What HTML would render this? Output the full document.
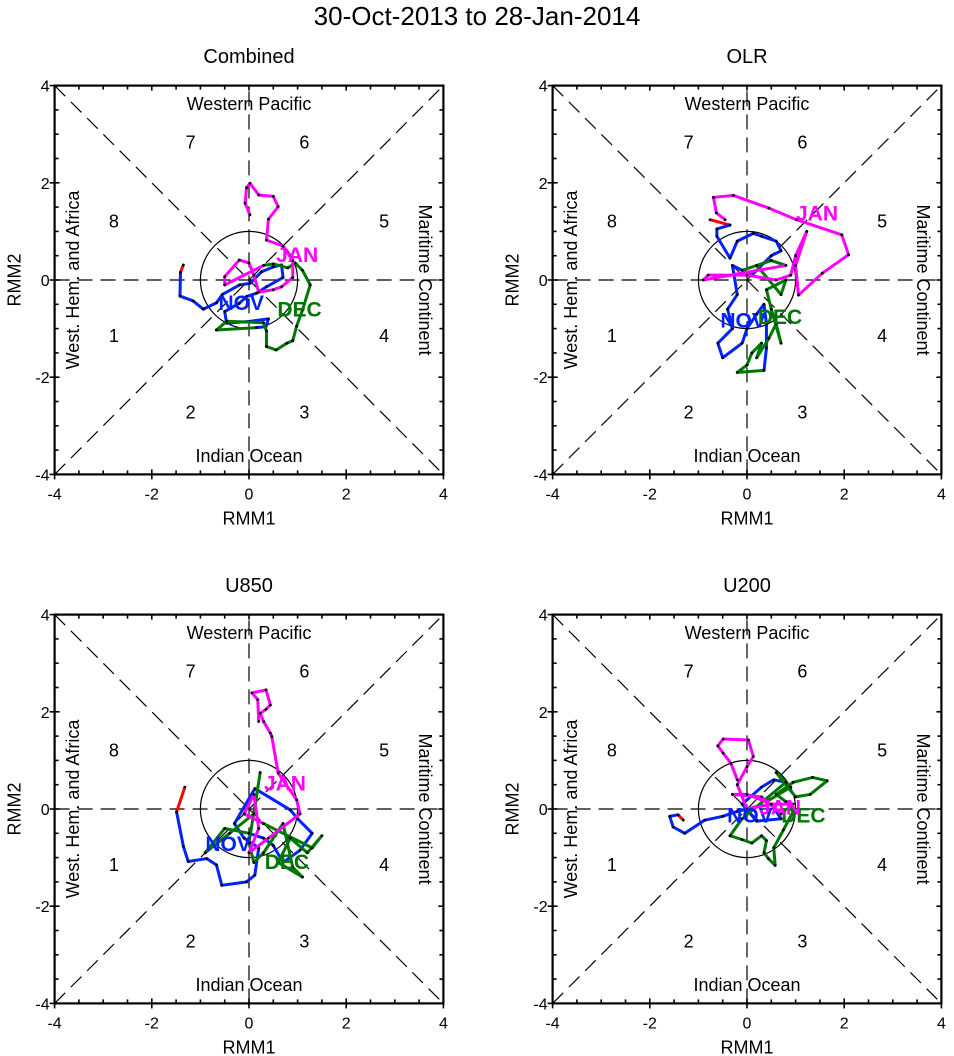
<!DOCTYPE html>
<html><head><meta charset="utf-8"><style>
body{margin:0;background:#fff;}
svg{display:block;font-family:"Liberation Sans",sans-serif;}
</style></head><body>
<svg id="chart" width="954" height="1056" viewBox="0 0 954 1056" xmlns="http://www.w3.org/2000/svg">
<text x="477" y="25" font-size="26" text-anchor="middle">30-Oct-2013 to 28-Jan-2014</text>
</svg>
<script>
const panelNames = ["Combined","OLR","U850","U200"];
const panelCenters = [[249,280],[747,280],[249,809],[747,809]];
// trajectories in RMM units: [RMM1, RMM2]
const octSeries = [
 [[-1.35,0.31],[-1.41,0.16]],
 [[-0.76,1.24],[-0.35,1.13]],
 [[-1.32,0.45],[-1.49,-0.06]],
 [[-1.31,-0.23],[-1.42,-0.12]]
];
const novSeries = [
 [[-1.41,0.16],[-1.42,-0.33],[-1.15,-0.43],[-0.94,-0.60],[-0.67,-0.47],[-0.55,-0.30],[-0.19,-0.10],[0.02,-0.07],[0.26,0.17],[0.50,0.27],[0.67,0.31],[0.70,0.05],[0.36,-0.14],[0.16,-0.27],[-0.05,-0.34],[-0.20,-0.48],[-0.50,-0.65],[-0.46,-0.89],[0.02,-0.85],[0.40,-0.80],[0.35,-0.96],[0.15,-0.98]],
 [[-0.35,1.13],[-0.62,1.05],[-0.62,0.9],[-0.35,0.45],[-0.2,0.8],[0.13,0.96],[0.3,0.9],[0.6,0.8],[0.7,0.6],[0.5,0.5],[0.1,0.1],[-0.3,0.3],[-0.2,-0.3],[-0.4,-0.6],[-0.3,-1.0],[-0.6,-1.3],[-0.5,-1.6],[-0.1,-1.3],[0.0,-1.0],[0.2,-0.7],[0.35,-0.5],[0.4,-0.9],[0.4,-1.4],[0.35,-1.86]],
 [[-1.49,-0.06],[-1.35,-0.77],[-1.25,-1.08],[-0.87,-1.02],[-0.67,-1.15],[-0.56,-1.57],[-0.05,-1.50],[0.12,-1.36],[0.2,-0.8],[-0.1,-0.6],[-0.3,-0.3],[0.12,0.42],[0.85,-0.02],[1.0,-0.2],[1.3,-0.5],[1.05,-0.85],[0.7,-1.1],[0.5,-0.75],[0.3,-0.6],[0.0,-0.5]],
 [[-1.42,-0.12],[-1.59,-0.15],[-1.52,-0.37],[-1.28,-0.50],[-0.87,-0.23],[-0.5,-0.15],[-0.2,-0.05],[0.2,0.05],[0.5,0.1],[0.7,-0.2],[0.2,-0.25],[-0.1,0.1],[0.3,0.45],[0.55,0.6],[0.8,0.55]]
];
const decSeries = [
 [[0.15,-0.98],[-0.67,-1.03],[-0.46,-0.85],[0.3,-0.88],[0.36,-1.05],[0.36,-1.37],[0.56,-1.44],[0.78,-1.30],[0.9,-1.25],[0.98,-0.95],[1.10,-0.62],[1.26,-0.10],[1.10,0.20],[0.95,0.35],[0.80,0.25],[0.50,0.33],[0.3,0.30]],
 [[0.35,-1.86],[-0.2,-1.9],[0.0,-1.75],[0.1,-1.5],[0.3,-1.3],[0.2,-1.6],[0.45,-1.2],[0.6,-0.9],[0.7,-1.3],[0.5,-0.6],[0.4,-0.2],[0.8,0.0],[0.7,-0.3],[0.2,0.3],[-0.1,0.2],[0.5,0.4],[0.8,0.3]],
 [[0.0,-0.5],[-0.5,-0.4],[-0.9,-0.9],[-0.4,-0.5],[0.1,-0.1],[0.23,0.75],[0.0,-0.7],[0.1,-1.1],[0.3,-0.9],[0.7,-0.3],[0.9,-1.2],[1.1,-1.4],[0.6,-1.1],[0.85,-0.6],[1.2,-0.9],[1.5,-0.55],[1.3,-0.8],[0.3,-0.3]],
 [[0.8,0.55],[-0.1,-0.2],[-0.35,-0.55],[-0.1,-0.63],[0.1,-0.7],[0.3,-0.55],[0.4,-0.65],[0.35,-0.9],[0.44,-1.02],[0.58,-1.16],[0.55,-0.8],[0.75,-0.43],[0.95,-0.05],[0.8,0.15],[0.6,0.3],[0.95,0.55],[1.35,0.65],[1.65,0.58],[1.3,0.3],[1.0,0.25],[0.6,0.75],[0.9,0.45],[0.4,0.15]]
];
const janSeries = [
 [[0.3,0.30],[-0.5,-0.1],[-0.5,0.07],[-0.2,0.41],[0.0,0.35],[0.1,0.1],[0.2,-0.25],[0.5,-0.2],[0.67,-0.14],[0.9,0.05],[0.9,0.4],[0.7,0.7],[0.36,0.82],[0.40,1.25],[0.60,1.51],[0.50,1.72],[0.2,1.75],[0.02,1.99],[-0.05,1.9],[-0.08,1.58],[0.02,1.34]],
 [[0.8,0.3],[-0.9,0.0],[-0.8,0.1],[0.0,0.1],[0.6,0.0],[0.9,0.1],[1.0,0.5],[1.23,1.0],[1.0,0.3],[1.06,-0.31],[1.55,0.14],[2.09,0.52],[1.95,0.93],[1.02,1.24],[0.45,1.48],[-0.28,1.74],[-0.69,1.70],[-0.63,1.38],[-0.45,1.24]],
 [[0.3,-0.3],[-0.1,-0.1],[0.1,0.3],[0.2,-0.4],[0.0,-0.9],[0.4,-0.6],[1.05,-0.1],[0.98,0.19],[0.60,0.74],[0.47,1.49],[0.44,1.56],[0.3,1.8],[0.23,1.97],[0.35,2.05],[0.44,2.14],[0.35,2.45],[0.06,2.39],[0.18,2.25],[0.2,1.8]],
 [[0.4,0.15],[0.0,0.3],[-0.3,0.3],[0.3,0.25],[0.7,-0.1],[0.95,0.1],[0.5,0.1],[0.0,0.0],[-0.2,0.5],[0.0,0.87],[0.13,1.08],[0.03,1.42],[-0.49,1.44],[-0.6,1.3],[-0.49,1.15],[-0.33,0.94],[-0.2,0.6]]
];
const monthLabelPos = [
 [[-0.16,-0.50],[1.04,-0.64],[0.99,0.48]],
 [[-0.08,-0.86],[0.68,-0.79],[1.44,1.34]],
 [[-0.43,-0.75],[0.78,-1.12],[0.74,0.49]],
 [[0.06,-0.16],[1.16,-0.16],[0.68,0.0]]
];
const monthLabels = ["NOV","DEC","JAN"];
const tickLabels = ["-4","-2","0","2","4"];
const tickValues = [-4,-2,0,2,4];
const phaseLabels = ["1","2","3","4","5","6","7","8"];
const phasePos = [[-2.78,-1.18],[-1.2,-2.75],[1.14,-2.75],[2.78,-1.18],[2.78,1.18],[1.14,2.8],[-1.2,2.8],[-2.78,1.18]];
const S = 48.6;
const svg = document.getElementById('chart');
const NS = "http://www.w3.org/2000/svg";
function mk(tag, attrs, parent){const e=document.createElementNS(NS,tag);for(const k in attrs)e.setAttribute(k,attrs[k]);(parent||svg).appendChild(e);return e;}
panelNames.forEach((name,pi)=>{
  const [cx,cy]=panelCenters[pi];
  const X=v=>cx+v*S, Y=v=>cy-v*S;
  const g=mk('g',{});
  
  
  const t=mk('text',{x:cx,y:cy-217,'font-size':20,'text-anchor':'middle'},g);t.textContent=name;
  
  
  const dl=[[-4,-4,4,4],[-4,4,4,-4],[-4,0,4,0],[0,-4,0,4]];
  dl.forEach(d=>{const l=mk('line',{x1:X(d[0]),y1:Y(d[1]),x2:X(d[2]),y2:Y(d[3]),stroke:'#000','stroke-width':1.2,'stroke-dasharray':'15,8'},g);
    
    });
  const c=mk('circle',{cx:cx,cy:cy,r:S,fill:'none',stroke:'#000','stroke-width':1.2},g);
  
  
  const regs=[["Western Pacific",cx,Y(3.6),0],["Indian Ocean",cx,Y(-3.65),0],["West. Hem. and Africa",X(-3.6),cy,-90],["Maritime Continent",X(3.6),cy,90]];
  regs.forEach(r=>{const tt=mk('text',{x:r[1],y:r[2],'font-size':18,'text-anchor':'middle','dominant-baseline':'middle',transform:`rotate(${r[3]} ${r[1]} ${r[2]})`},g);
    tt.textContent=r[0];
    
    });
  phaseLabels.forEach((p,i)=>{const tt=mk('text',{x:X(phasePos[i][0]),y:Y(phasePos[i][1]),'font-size':18,'text-anchor':'middle','dominant-baseline':'middle'},g);tt.textContent=p;
    
    });
  const f=mk('rect',{x:X(-4),y:Y(4),width:8*S,height:8*S,fill:'none',stroke:'#000','stroke-width':2.2},g);
  
  
  for(let v=-4;v<=4.001;v+=0.5){
    const major=Math.abs(v%2)<0.01;
    const L=major?5:4;
    mk('line',{x1:X(v),y1:Y(-4)-L,x2:X(v),y2:Y(-4)+(major?5:0),stroke:'#000','stroke-width':1.6},g);
    mk('line',{x1:X(v),y1:Y(4)+L,x2:X(v),y2:Y(4),stroke:'#000','stroke-width':1.6},g);
    mk('line',{x1:X(-4)+L,y1:Y(v),x2:X(-4)-(major?5:0),y2:Y(v),stroke:'#000','stroke-width':1.6},g);
    mk('line',{x1:X(4)-L,y1:Y(v),x2:X(4),y2:Y(v),stroke:'#000','stroke-width':1.6},g);
  }
  tickValues.forEach((v,i)=>{
    const a=mk('text',{x:X(v),y:Y(-4)+25,'font-size':16,'text-anchor':'middle'},g);a.textContent=tickLabels[i];
    
    
    const b=mk('text',{x:X(-4)-5,y:Y(v)+6,'font-size':16,'text-anchor':'end'},g);b.textContent=tickLabels[i];
    
    
  });
  const xt=mk('text',{x:cx,y:Y(-4)+50,'font-size':18,'text-anchor':'middle'},g);xt.textContent='RMM1';
  
  
  const yx=X(-4)-34;
  const yt=mk('text',{x:yx,y:cy,'font-size':18,'text-anchor':'middle',transform:`rotate(-90 ${yx} ${cy})`},g);yt.textContent='RMM2';
  
  
  const sets=[[octSeries[pi],'#ff0000','oct'],[novSeries[pi],'#0022ff','nov'],[decSeries[pi],'#007700','dec'],[janSeries[pi],'#ff00ff','jan']];
  sets.forEach(([pts,col,nm])=>{
    const p=mk('polyline',{points:pts.map(q=>X(q[0])+','+Y(q[1])).join(' '),fill:'none',stroke:col,'stroke-width':3,'stroke-linejoin':'round'},g);
    
    
    pts.forEach(q=>{const d=mk('circle',{cx:X(q[0]),cy:Y(q[1]),r:1.4,fill:'#000'},g);
      
      });
  });
  const cols=['#0022ff','#007700','#ff00ff'];
  monthLabels.forEach((m,i)=>{const tt=mk('text',{x:X(monthLabelPos[pi][i][0]),y:Y(monthLabelPos[pi][i][1]),'font-size':21,'font-weight':'bold',fill:cols[i],'text-anchor':'middle','dominant-baseline':'middle'},g);tt.textContent=m;
    
    });
});
</script>
</body></html>
